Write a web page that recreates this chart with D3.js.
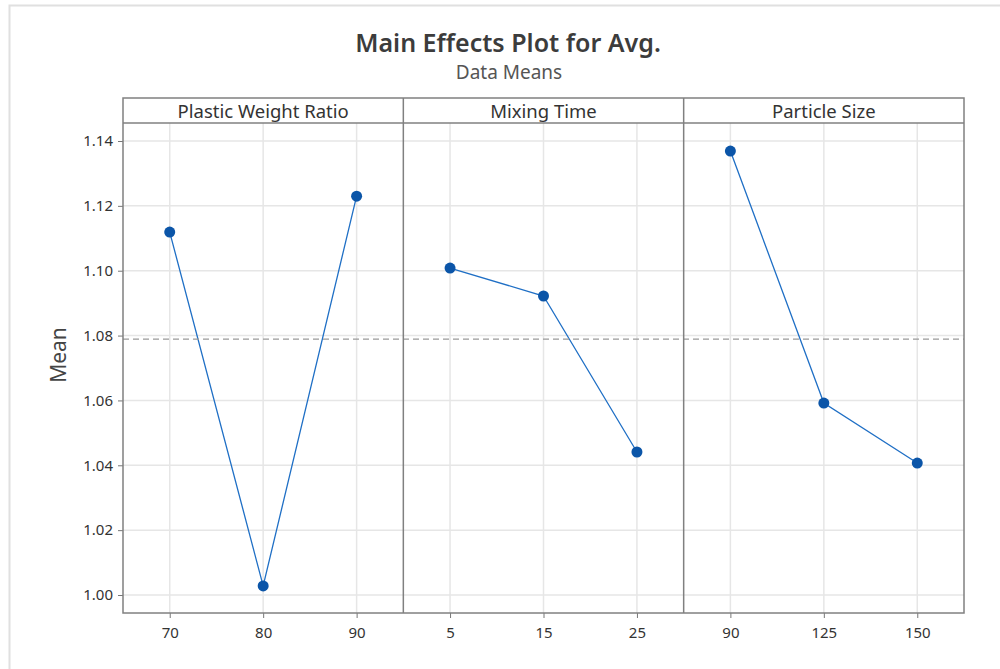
<!DOCTYPE html>
<html>
<head>
<meta charset="utf-8">
<script src="https://cdn.jsdelivr.net/npm/d3@7"></script>
<style>
body { margin: 0; background: #fff; }
</style>
</head>
<body>
<script>
var factors = ["Plastic Weight Ratio", "Mixing Time", "Particle Size"];
var levelsPWR = ["70", "80", "90"];
var levelsMT = ["5", "15", "25"];
var levelsPS = ["90", "125", "150"];
var meansPWR = [1.1119, 1.0028, 1.1230];
var meansMT = [1.1008, 1.0922, 1.0441];
var meansPS = [1.1369, 1.0592, 1.0407];
var grandMean = 1.0789;
var yTicks = [1.00, 1.02, 1.04, 1.06, 1.08, 1.10, 1.12, 1.14];

var levels = [levelsPWR, levelsMT, levelsPS];
var means = [meansPWR, meansMT, meansPS];

var w = 1000, h = 669;
var pLeft = 123, pRight = 964, pTop = 98, pBottom = 613, strip = 25;
var font = "'Noto Sans', 'Open Sans', sans-serif";

var svg = d3.select("body").append("svg")
  .attr("width", w)
  .attr("height", h);

// outer light frame
svg.append("path")
  .attr("d", "M9.5," + h + "V5.5H" + w)
  .attr("fill", "none")
  .attr("stroke", "#e0e0e0")
  .attr("stroke-width", 2);

svg.append("text")
  .attr("x", 508).attr("y", 52)
  .attr("text-anchor", "middle")
  .attr("font-family", font)
  .attr("font-size", "25px")
  .attr("font-weight", 600)
  .attr("fill", "#3c3c3c")
  .text("Main Effects Plot for Avg.");

svg.append("text")
  .attr("x", 509).attr("y", 79)
  .attr("text-anchor", "middle")
  .attr("font-family", font)
  .attr("font-size", "19px")
  .attr("fill", "#555")
  .text("Data Means");

var y = d3.scaleLinear().domain([1.00, 1.14]).range([595, 141]);

var panelW = (pRight - pLeft) / factors.length;
var plotTop = pTop + strip;

// y gridlines across all panels
svg.selectAll("line.hgrid")
  .data(yTicks)
  .enter()
  .append("line")
  .attr("x1", pLeft).attr("x2", pRight)
  .attr("y1", function(d) { return y(d); })
  .attr("y2", function(d) { return y(d); })
  .attr("stroke", "#e6e6e6")
  .attr("stroke-width", 1.5);

factors.forEach(function(f, i) {
  var x0 = pLeft + i * panelW;
  var x = d3.scalePoint().domain(levels[i]).range([x0, x0 + panelW]).padding(0.5);

  var g = svg.append("g");

  // vertical gridlines
  g.selectAll("line.vgrid")
    .data(levels[i])
    .enter()
    .append("line")
    .attr("x1", function(d) { return x(d); })
    .attr("x2", function(d) { return x(d); })
    .attr("y1", plotTop).attr("y2", pBottom)
    .attr("stroke", "#e6e6e6")
    .attr("stroke-width", 1.5);

  // x axis
  var ax = svg.append("g")
    .attr("transform", "translate(0," + pBottom + ")")
    .call(d3.axisBottom(x).tickSize(5).tickPadding(9).tickSizeOuter(0));
  ax.select(".domain").remove();
  ax.selectAll("line").attr("stroke", "#777");
  ax.selectAll("text")
    .attr("font-family", font)
    .attr("font-size", "15px")
    .attr("fill", "#333");

  // strip label
  svg.append("text")
    .attr("x", x0 + panelW / 2)
    .attr("y", pTop + 20)
    .attr("text-anchor", "middle")
    .attr("font-family", font)
    .attr("font-size", "18.5px")
    .attr("fill", "#333")
    .text(f);

  var pts = levels[i].map(function(l, j) { return { lev: l, v: means[i][j] }; });

  g.append("path")
    .datum(pts)
    .attr("d", d3.line()
      .x(function(d) { return x(d.lev); })
      .y(function(d) { return y(d.v); }))
    .attr("fill", "none")
    .attr("stroke", "#1f6fc5")
    .attr("stroke-width", 1.3);

  g.selectAll("circle")
    .data(pts)
    .enter()
    .append("circle")
    .attr("cx", function(d) { return x(d.lev); })
    .attr("cy", function(d) { return y(d.v); })
    .attr("r", 5.5)
    .attr("fill", "#0b55a8");
});

// grand mean reference line
svg.append("line")
  .attr("x1", pLeft).attr("x2", pRight)
  .attr("y1", y(grandMean)).attr("y2", y(grandMean))
  .attr("stroke", "#999")
  .attr("stroke-width", 1.3)
  .attr("stroke-dasharray", "6,4");

// y axis
var ay = svg.append("g")
  .attr("transform", "translate(" + pLeft + ",0)")
  .call(d3.axisLeft(y).tickValues(yTicks).tickFormat(d3.format(".2f")).tickSize(5).tickPadding(5));
ay.select(".domain").remove();
ay.selectAll("line").attr("stroke", "#777");
ay.selectAll("text")
  .attr("font-family", font)
  .attr("font-size", "15px")
  .attr("fill", "#333");

svg.append("text")
  .attr("transform", "translate(66," + 355 + ") rotate(-90)")
  .attr("text-anchor", "middle")
  .attr("font-family", font)
  .attr("font-size", "21px")
  .attr("fill", "#444")
  .text("Mean");

// frame, strip and panel dividers
svg.append("rect")
  .attr("x", pLeft).attr("y", pTop)
  .attr("width", pRight - pLeft).attr("height", pBottom - pTop)
  .attr("fill", "none")
  .attr("stroke", "#808080")
  .attr("stroke-width", 1.5);

svg.append("line")
  .attr("x1", pLeft).attr("x2", pRight)
  .attr("y1", plotTop).attr("y2", plotTop)
  .attr("stroke", "#808080")
  .attr("stroke-width", 1.5);

svg.selectAll("line.div")
  .data([1, 2])
  .enter()
  .append("line")
  .attr("x1", function(d) { return pLeft + d * panelW; })
  .attr("x2", function(d) { return pLeft + d * panelW; })
  .attr("y1", pTop).attr("y2", pBottom)
  .attr("stroke", "#808080")
  .attr("stroke-width", 1.5);
</script>
</body>
</html>
